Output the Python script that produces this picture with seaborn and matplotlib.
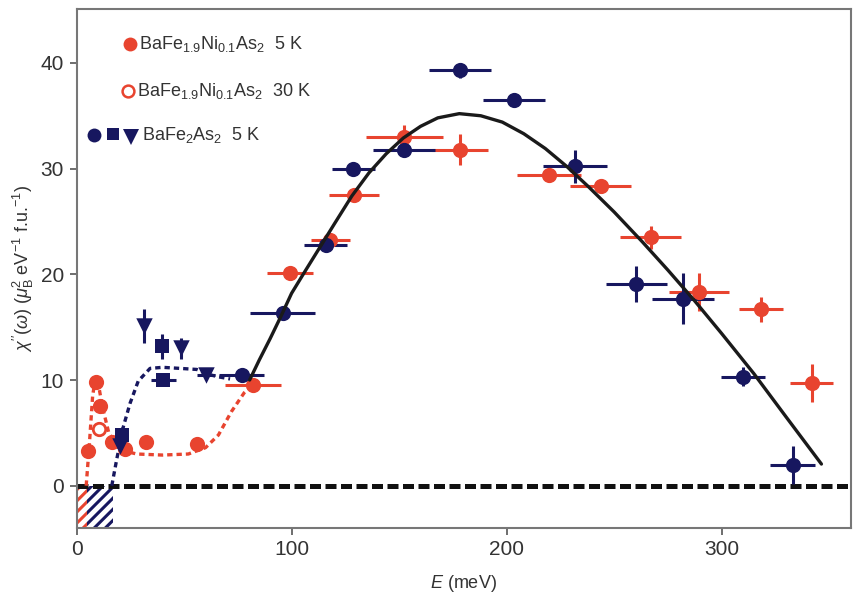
import matplotlib
matplotlib.use("Agg")
import matplotlib.pyplot as plt
import seaborn as sns
import pandas as pd
from matplotlib.patches import Rectangle

sns.set_style("ticks")
plt.rcParams['font.family'] = ['Liberation Sans', 'DejaVu Sans']
plt.rcParams['mathtext.fontset'] = 'custom'
plt.rcParams['mathtext.rm'] = 'Liberation Sans'
plt.rcParams['mathtext.it'] = 'Liberation Sans:italic'

RED = '#E8442F'
NAVY = '#17175F'

# --- data: BaFe1.9Ni0.1As2 5 K (filled red circles)
ni5_E = [5.2, 8.9, 10.9, 16.4, 22.5, 32.3, 56, 82, 99.3, 118, 129, 152.4, 178.3,
         219.7, 243.7, 267, 289.4, 318.2, 341.8]
ni5_chi = [3.3, 9.8, 7.5, 4.1, 3.5, 4.1, 3.9, 9.5, 20.1, 23.2, 27.5, 33.0, 31.8,
           29.4, 28.4, 23.5, 18.3, 16.7, 9.7]
ni5_xerr = [0, 0, 0, 0, 0, 0, 0, 13, 10.5, 9, 11.5, 18, 13, 15, 14, 14.3, 14, 10.3, 10]
ni5_yerr = [0.5, 0.5, 0.5, 0.4, 0.3, 0.4, 0.4, 0.5, 0.6, 0.5, 0.5, 1.1, 1.5,
            0.5, 0.6, 1.1, 1.8, 1.2, 1.8]

# --- BaFe1.9Ni0.1As2 30 K (open red circle)
ni30_E = [10.6]
ni30_chi = [5.4]

# --- BaFe2As2 5 K: circles, squares, triangles
fe_c_E = [76.8, 95.9, 116, 128.7, 152.3, 178.3, 203.4, 231.8, 260.4, 282.1, 310, 333]
fe_c_chi = [10.5, 16.3, 22.8, 30.0, 31.8, 39.3, 36.5, 30.2, 19.1, 17.7, 10.3, 2.0]
fe_c_xerr = [10.5, 15, 10, 10, 14.5, 14.3, 14.4, 15, 14.3, 14.5, 10.3, 10.3]
fe_c_yerr = [0.5, 0.6, 0.5, 0.5, 0.6, 0.7, 0.7, 1.6, 1.7, 2.4, 0.9, 1.8]

fe_s_E = [21, 39.6, 40.4]
fe_s_chi = [4.8, 13.2, 10.0]
fe_s_xerr = [3, 0, 5.8]
fe_s_yerr = [0.8, 1.2, 0.5]

fe_t_E = [20.2, 31.5, 48.4, 60.2]
fe_t_chi = [3.8, 15.1, 13.0, 10.5]
fe_t_xerr = [0, 0, 0, 4.3]
fe_t_yerr = [0.5, 1.6, 1.0, 0.5]

# --- guide curves
fit_E = [80.5, 85, 90, 95, 100, 106, 113, 120, 128, 136, 144, 152, 160, 168, 178,
         188, 198, 208, 218, 228, 238, 250, 263, 275, 287, 300, 315, 330, 346.4]
fit_chi = [10.0, 11.9, 13.9, 16.0, 18.2, 20.2, 22.5, 24.8, 27.4, 29.6, 31.4, 32.9,
           34.0, 34.8, 35.2, 35.0, 34.4, 33.3, 31.9, 30.2, 28.3, 25.9, 23.1, 20.4,
           17.6, 14.4, 10.6, 6.5, 2.05]

red_guide_E = [4.5, 6, 7.5, 8.8, 10, 12, 15, 20, 28, 40, 52, 60, 66, 72, 78, 82]
red_guide_chi = [0, 4, 8.5, 10.2, 9.8, 7.5, 5.0, 3.4, 3.0, 2.9, 3.0, 3.6, 4.8, 7.0, 8.8, 9.6]

blue_guide_E = [16.4, 18.7, 21.8, 24.9, 28.7, 34.2, 40, 48.1, 55.9, 62, 66, 71.4]
blue_guide_chi = [0, 2.5, 5.6, 7.8, 9.9, 11.1, 11.2, 11.1, 11.0, 10.5, 10.3, 10.1]

# gap regions (hatched)
red_gap = 4.7
blue_gap = 17.0

fig = plt.figure(figsize=(8.54, 5.96), dpi=100)
ax = fig.add_axes([0.0896, 0.1141, 0.9065, 0.8708])

# hatched gap boxes
plt.rcParams['hatch.linewidth'] = 2.2
ax.add_patch(Rectangle((0, -4), blue_gap, 4, facecolor='white', edgecolor=NAVY,
                       hatch='///', lw=0, zorder=1))
ax.add_patch(Rectangle((0, -4), red_gap, 4, facecolor='white', edgecolor=RED,
                       hatch='///', lw=0, zorder=1.1))

# zero line
ax.axhline(0, color='#111111', lw=3.6, ls=(0, (2.2, 0.9)), zorder=2)

# guide curves
sns.lineplot(x=red_guide_E, y=red_guide_chi, sort=False, estimator=None, ax=ax,
             color=RED, lw=2.4, ls=(0, (1.6, 1.2)), zorder=3)
sns.lineplot(x=blue_guide_E, y=blue_guide_chi, sort=False, estimator=None, ax=ax,
             color=NAVY, lw=2.4, ls=(0, (1.6, 1.2)), zorder=3)
sns.lineplot(x=fit_E, y=fit_chi, sort=False, estimator=None, ax=ax,
             color='#1a1a1a', lw=2.4, zorder=6)

# error bars
ax.errorbar(ni5_E, ni5_chi, xerr=ni5_xerr, yerr=ni5_yerr, fmt='none',
            ecolor=RED, elinewidth=2.2, capsize=0, zorder=4)
for E, c, xe, ye in [(fe_c_E, fe_c_chi, fe_c_xerr, fe_c_yerr),
                     (fe_s_E, fe_s_chi, fe_s_xerr, fe_s_yerr),
                     (fe_t_E, fe_t_chi, fe_t_xerr, fe_t_yerr)]:
    ax.errorbar(E, c, xerr=xe, yerr=ye, fmt='none', ecolor=NAVY,
                elinewidth=2.2, capsize=0, zorder=4)

# markers
sns.scatterplot(x=ni5_E, y=ni5_chi, ax=ax, marker='o', s=120, color=RED,
                edgecolor=RED, linewidth=0, zorder=5)
sns.scatterplot(x=ni30_E, y=ni30_chi, ax=ax, marker='o', s=80, facecolor='white',
                edgecolor=RED, linewidth=2, zorder=5)
sns.scatterplot(x=fe_c_E, y=fe_c_chi, ax=ax, marker='o', s=120, color=NAVY,
                linewidth=0, zorder=5)
sns.scatterplot(x=fe_s_E, y=fe_s_chi, ax=ax, marker='s', s=95, color=NAVY,
                linewidth=0, zorder=5)
sns.scatterplot(x=fe_t_E, y=fe_t_chi, ax=ax, marker='v', s=140, color=NAVY,
                linewidth=0, zorder=5)

# legend-like annotations
fs_leg = 13
ax.plot([24.9], [41.8], 'o', color=RED, ms=10, mew=0)
ax.text(29.0, 41.8, r'BaFe$_{1.9}$Ni$_{0.1}$As$_2$  5 K', fontsize=fs_leg,
        va='center', ha='left', color='#333333')
ax.plot([23.9], [37.3], 'o', mfc='white', mec=RED, ms=8.5, mew=1.8)
ax.text(28.2, 37.3, r'BaFe$_{1.9}$Ni$_{0.1}$As$_2$  30 K', fontsize=fs_leg,
        va='center', ha='left', color='#333333')
ax.plot([8.1], [33.2], 'o', color=NAVY, ms=10, mew=0)
ax.plot([17.0], [33.3], 's', color=NAVY, ms=8.5, mew=0)
ax.plot([25.3], [33.0], 'v', color=NAVY, ms=11, mew=0)
ax.text(30.4, 33.2, r'BaFe$_2$As$_2$  5 K', fontsize=fs_leg,
        va='center', ha='left', color='#333333')

ax.set_xlim(0, 360)
ax.set_ylim(-4, 45.1)
ax.set_xticks([0, 100, 200, 300])
ax.set_yticks([0, 10, 20, 30, 40])
ax.tick_params(axis='both', direction='out', length=5, width=1.2, colors='#555555',
               labelsize=15, labelcolor='#333333', pad=4)
for s in ax.spines.values():
    s.set_color('#777777')
    s.set_linewidth(1.5)

ax.set_xlabel(r'$\it{E}$ (meV)', fontsize=13, color='#333333', labelpad=10)
ax.set_ylabel(r"$\chi''$($\omega$) ($\mu_{\rm B}^2$ eV$^{-1}$ f.u.$^{-1}$)",
              fontsize=13, color='#333333', labelpad=3)

fig.savefig('out.png', dpi=100)
